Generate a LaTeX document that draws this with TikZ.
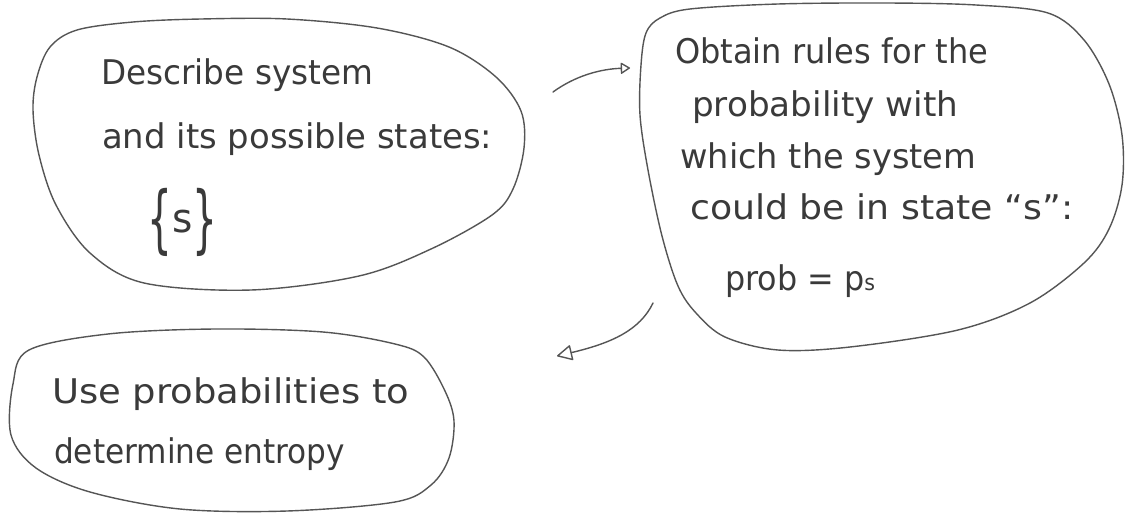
\documentclass[tikz,border=0pt]{standalone}
\usepackage{fontspec}
\setmainfont{DejaVu Sans}
\usetikzlibrary{arrows.meta}
\definecolor{ink}{HTML}{3A3A3A}
\definecolor{pencil}{HTML}{555555}
\newcommand\fitline[2]{\setbox0\hbox{#2}\pgfmathsetmacro\fitsx{#1/\the\wd0}\scalebox{\fitsx}[1]{\box0}}
\begin{document}
\begin{tikzpicture}[x=1pt,y=-1pt,
  txt/.style={anchor=base west, inner sep=0pt, text=ink, font=\fontsize{34}{40}\selectfont},
  blob/.style={draw=pencil, line width=1.4pt, line join=round},
  conn/.style={draw=pencil, line width=1.4pt, line cap=round}]
\useasboundingbox[fill=white] (0,0) rectangle (1126,514);

% blobs
\draw[blob] plot[smooth cycle, tension=0.55] coordinates {
  (77,30) (133,22) (201,19) (287,19) (377,28) (449,47) (496,77) (521,111) (524,148)
  (513,189) (492,215) (431,249) (359,276) (251,290) (144,283) (90,253)
  (56,205) (39,155) (33,110) (37,77) (50,47)};
\draw[blob] plot[smooth cycle, tension=0.55] coordinates {
  (660,18) (690,9) (778,4) (886,3) (976,5) (1048,13) (1084,40) (1109,84)
  (1122,135) (1122,185) (1109,229) (1084,263) (1030,303) (958,330) (850,347)
  (778,350) (725,337) (696,313) (678,286) (662,236) (648,170) (640,115) (641,65) (646,33)};
\draw[blob] plot[smooth cycle, tension=0.55] coordinates {
  (29,350) (108,334) (215,329) (323,332) (395,344) (424,357) (445,391)
  (454,421) (449,458) (431,485) (395,502) (287,511) (180,509) (90,492)
  (36,468) (11,435) (13,384)};

% texts
\node[txt] (t1a) at (101,84) {\fitline{272}{Describe system}};
\node[txt] (t1b) at (102,148) {\fitline{390}{and its possible states:}};
\node[txt, font=\fontsize{40}{40}\selectfont] (t1c) at (147,232)
  {\fitline{70}{\raisebox{-12pt}{\scalebox{1}[1.85]{\{}}s\raisebox{-12pt}{\scalebox{1}[1.85]{\}}}}};

\node[txt] (t2a) at (675,63) {\fitline{313}{Obtain rules for the}};
\node[txt] (t2b) at (692,116) {\fitline{266}{probability with}};
\node[txt] (t2c) at (680,168) {\fitline{296}{which the system}};
\node[txt] (t2d) at (690,219) {\fitline{383}{could be in state “s”:}};
\node[txt] (t2e) at (725,290) {\fitline{150}{prob = p{\fontsize{22}{22}\selectfont s}}};

\node[txt] (t3a) at (52,403) {\fitline{357}{Use probabilities to}};
\node[txt] (t3b) at (54,463) {\fitline{291}{determine entropy}};

% connectors
\coordinate (a1s) at (553,92);
\coordinate (a1e) at (630,68);
\coordinate (a2s) at (653,303);
\coordinate (a2e) at (557,356);
\draw[conn, -{Triangle[open, length=10pt, width=12pt, line join=round]}]
  (a1s) .. controls (575,76) and (600,69) .. (a1e);
\draw[conn, -{Triangle[open, length=16pt, width=16pt, line join=round]}]
  (a2s) .. controls (640,330) and (612,343) .. (a2e);
\end{tikzpicture}
\end{document}
